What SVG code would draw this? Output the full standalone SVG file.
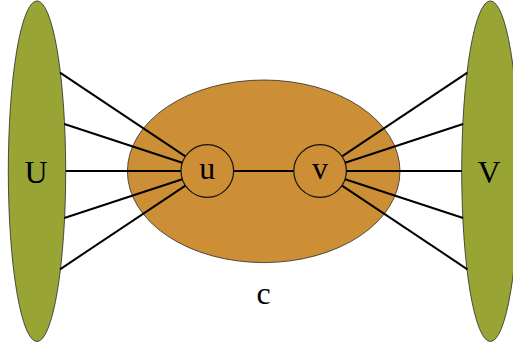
<svg xmlns="http://www.w3.org/2000/svg" width="513" height="349" viewBox="0 0 513 349">
<style>
.set{fill:#98A535;stroke:#2a2a2a;stroke-width:0.8}
.comp{fill:#CD8F36;stroke:#2a2a2a;stroke-width:0.8}
.node{fill:#CD8F36;stroke:#111;stroke-width:1.2}
.edge{stroke:#000;stroke-width:2;fill:none}
.lbl{font-family:"Liberation Serif","DejaVu Serif",serif;font-size:32px;fill:#000;text-anchor:middle}
</style>
<rect width="513" height="349" fill="#fff"/>
<g id="U"><ellipse class="set" cx="37" cy="171.2" rx="28.7" ry="170.3"/><text class="lbl" x="36" y="183">U</text></g>
<g id="V"><ellipse class="set" cx="490.4" cy="171.2" rx="28.7" ry="170.3"/><text class="lbl" x="489" y="183">V</text></g>
<g id="c"><ellipse class="comp" cx="263.7" cy="171.3" rx="136.3" ry="91.3"/><text class="lbl" x="263.7" y="304">c</text></g>
<g id="edges">
<line class="edge" x1="60" y1="72.7" x2="185.4" y2="156.4"/>
<line class="edge" x1="64.3" y1="124" x2="182.3" y2="162.8"/>
<line class="edge" x1="65.7" y1="171" x2="181" y2="171"/>
<line class="edge" x1="64.3" y1="218" x2="182.3" y2="179.2"/>
<line class="edge" x1="60" y1="269.3" x2="185.4" y2="185.6"/>
<line class="edge" x1="467.4" y1="72.7" x2="342" y2="156.4"/>
<line class="edge" x1="463.1" y1="124" x2="345.1" y2="162.8"/>
<line class="edge" x1="461.7" y1="171" x2="346.4" y2="171"/>
<line class="edge" x1="463.1" y1="218" x2="345.1" y2="179.2"/>
<line class="edge" x1="467.4" y1="269.3" x2="342" y2="185.6"/>
<line class="edge" x1="233.6" y1="171" x2="293.8" y2="171"/>
</g>
<g id="u"><circle class="node" cx="207.3" cy="171" r="26.3"/><text class="lbl" x="207.3" y="178.5">u</text></g>
<g id="v"><circle class="node" cx="320.1" cy="171" r="26.3"/><text class="lbl" x="320.1" y="178.5">v</text></g>
</svg>
